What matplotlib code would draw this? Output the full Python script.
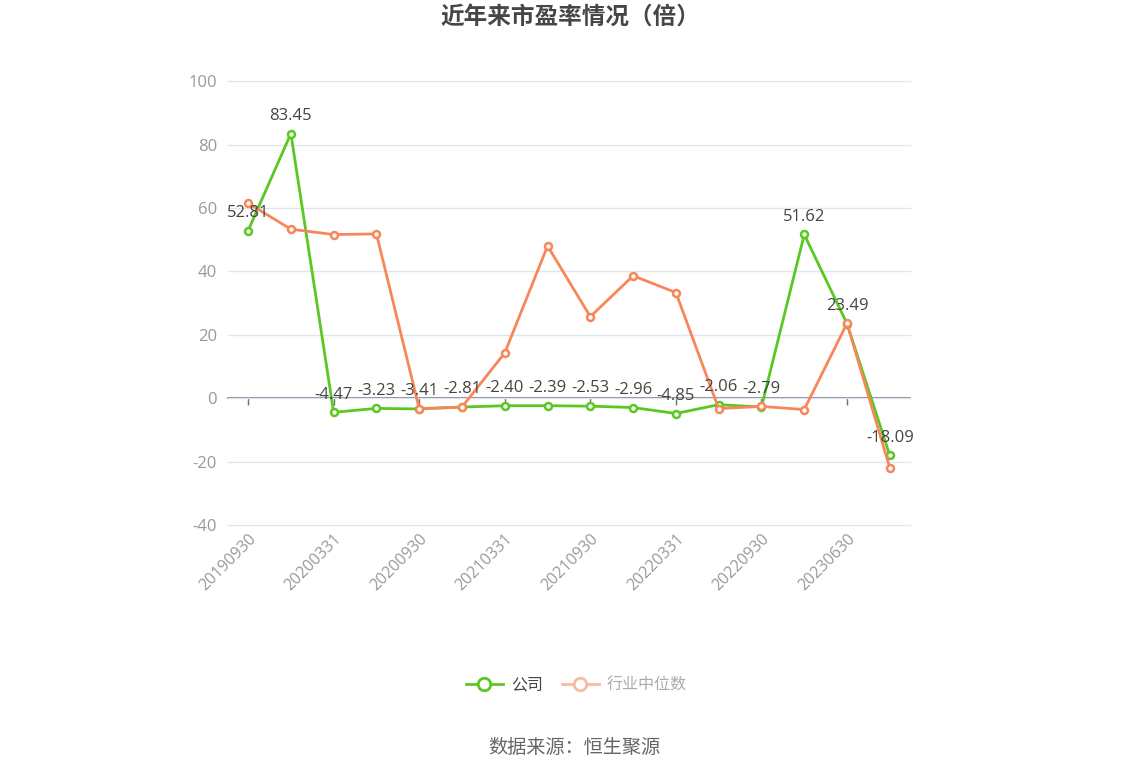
import matplotlib
matplotlib.use('Agg')
import matplotlib.pyplot as plt
from matplotlib.lines import Line2D

plt.rcParams['font.family'] = ['Open Sans', 'Noto Sans CJK SC', 'DejaVu Sans']
plt.rcParams['axes.unicode_minus'] = False

dates = ['20190930', '20191231', '20200331', '20200630', '20200930', '20201231',
         '20210331', '20210630', '20210930', '20211231', '20220331', '20220630',
         '20220930', '20221231', '20230630', '20230930']
company = [52.81, 83.45, -4.47, -3.23, -3.41, -2.81, -2.40, -2.39, -2.53, -2.96,
           -4.85, -2.06, -2.79, 51.62, 23.49, -18.09]
industry = [61.5, 53.3, 51.6, 51.8, -3.3, -2.8, 14.3, 48.0, 25.7, 38.6,
            33.3, -3.3, -2.6, -3.6, 23.6, -22.0]

green = '#5ac722'
orange = '#f7875a'

fig = plt.figure(figsize=(11.48, 7.76), dpi=100)
ax = fig.add_axes([0.1986, 0.3235, 0.594, 0.572])

x = list(range(len(dates)))
ax.plot(x, company, color=green, lw=2, marker='o', ms=5, mfc='white', mec=green, mew=1.8, zorder=3)
ax.plot(x, industry, color=orange, lw=2, marker='o', ms=5, mfc='white', mec=orange, mew=1.8, zorder=4)

for xi, v in zip(x, company):
    ax.annotate('%.2f' % v, (xi, v), xytext=(0, 7), textcoords='offset points',
                ha='center', va='bottom', fontsize=12, color='#444444', zorder=5)

ax.set_ylim(-40, 100)
ax.set_yticks(range(-40, 101, 20))
ax.set_xlim(-0.47, len(dates) - 0.53)
ax.set_xticks(x[::2])
ax.set_xticklabels(dates[::2])
ax.tick_params(axis='x', colors='#999999', labelsize=11.5, length=0, pad=4)
plt.setp(ax.get_xticklabels(), rotation=45, ha='right', rotation_mode='anchor')
ax.tick_params(axis='y', colors='#999999', labelsize=12, length=0, pad=8)
ax.grid(axis='y', color='#e0e6f1', lw=1, clip_on=False)
ax.set_axisbelow(True)
for s in ax.spines.values():
    s.set_visible(False)

# axis line with ticks at the zero level
sec = ax.secondary_xaxis(40 / 140)
sec.set_xticks(x[::2])
sec.set_xticklabels([])
sec.spines['bottom'].set_color('#6e7079')
sec.spines['bottom'].set_linewidth(1.2)
sec.tick_params(axis='x', color='#6e7079', length=5, width=1)

fig.text(0.497, 0.977, '近年来市盈率情况（倍）', ha='center', va='center',
         fontsize=17, fontweight='bold', color='#464646')

handles = [Line2D([], [], color=green, lw=2, marker='o', ms=9, mfc='white', mec=green, mew=2),
           Line2D([], [], color='#fbb9a0', lw=2, marker='o', ms=9, mfc='white', mec='#fbb9a0', mew=2)]
leg = fig.legend(handles, ['公司', '行业中位数'], loc='center', bbox_to_anchor=(0.502, 0.117),
                 ncol=2, frameon=False, fontsize=11.5, handlelength=2.3, columnspacing=1.2,
                 handletextpad=0.5)
leg.get_texts()[0].set_color('#444444')
leg.get_texts()[1].set_color('#aaaaaa')

fig.text(0.5, 0.036, '数据来源：恒生聚源', ha='center', va='center', fontsize=13.8, color='#666666')

fig.savefig('out.png', dpi=100)
